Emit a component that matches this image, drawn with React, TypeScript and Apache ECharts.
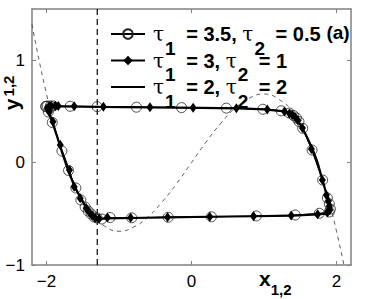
import React, { useEffect, useRef } from 'react';
import * as echarts from 'echarts';

const tau1 = [3.5, 3, 2];
const tau2 = [0.5, 1, 2];
const seriesNames = tau1.map((t, i) => `τ1 = ${t}, τ2 = ${tau2[i]}`);

const xTicks = [-2, 0, 2];
const yTicks = [-1, 0, 1];
const xRange = [-2.2, 2.2];
const yRange = [-1, 1.5];
const verticalLineX = -1.3;

const nullclineX = [-2.2, -2.0, -1.8, -1.6, -1.4, -1.2, -1.0, -0.8, -0.6, -0.4, -0.2, 0, 0.2, 0.4, 0.6, 0.8, 1.0, 1.2, 1.4, 1.6, 1.8, 2.0, 2.2];
const nullclineY = [1.35, 0.67, 0.14, -0.23, -0.49, -0.62, -0.67, -0.63, -0.53, -0.38, -0.2, 0, 0.2, 0.38, 0.53, 0.63, 0.67, 0.62, 0.49, 0.23, -0.14, -0.67, -1.35];

// tau1 = 2, tau2 = 2 : solid line
const linePts = [
  [-2.017, 0.553], [-1.811, 0.55], [-1.26, 0.545], [-0.573, 0.54], [0.114, 0.535], [0.664, 0.53],
  [1.007, 0.519], [1.214, 0.506], [1.351, 0.484], [1.447, 0.433], [1.53, 0.336], [1.599, 0.24],
  [1.668, 0.133], [1.737, 0.006], [1.806, -0.17], [1.861, -0.307], [1.901, -0.424], [1.915, -0.473],
  [1.887, -0.497], [1.737, -0.505], [1.393, -0.517], [0.843, -0.524], [0.252, -0.529], [-0.34, -0.534],
  [-0.834, -0.541], [-1.15, -0.546], [-1.26, -0.551], [-1.315, -0.546], [-1.37, -0.521], [-1.425, -0.473],
  [-1.508, -0.365], [-1.604, -0.248], [-1.7, -0.082], [-1.783, 0.094], [-1.852, 0.25], [-1.92, 0.396],
  [-1.975, 0.504], [-2.017, 0.553],
];

// tau1 = 3.5, tau2 = 0.5 : open circles
const circlePts = [
  [-2.01, 0.548], [-1.989, 0.553], [-1.948, 0.553], [-1.907, 0.553], [-1.673, 0.55], [-1.302, 0.546], [-0.759, 0.541],
  [-0.137, 0.537], [0.481, 0.532], [0.984, 0.521], [1.237, 0.506], [1.351, 0.484], [1.406, 0.46],
  [1.447, 0.436], [1.482, 0.401], [1.534, 0.335], [1.663, 0.123], [1.809, -0.17], [1.874, -0.346],
  [1.901, -0.404], [1.915, -0.453], [1.901, -0.482], [1.764, -0.495], [1.43, -0.512], [0.894, -0.521],
  [0.275, -0.529], [-0.322, -0.534], [-0.825, -0.539], [-1.123, -0.536], [-1.237, -0.551], [-1.302, -0.541],
  [-1.343, -0.531], [-1.384, -0.502], [-1.425, -0.473], [-1.467, -0.434], [-1.526, -0.365], [-1.595, -0.248],
  [-1.696, -0.077], [-1.787, 0.113], [-1.92, 0.392], [-1.975, 0.494], [-2.01, 0.548],
];

// tau1 = 3, tau2 = 1 : filled diamonds
const diamondPts = [
  [-1.879, 0.553], [-1.838, 0.553], [-1.618, 0.55], [-1.215, 0.545], [-0.573, 0.54], [0.022, 0.536],
  [0.619, 0.531], [1.045, 0.519], [1.283, 0.499], [1.351, 0.479], [1.393, 0.465], [1.434, 0.44],
  [1.468, 0.411], [1.53, 0.338], [1.654, 0.133], [1.805, -0.17], [1.86, -0.316], [1.887, -0.375],
  [1.901, -0.424], [1.908, -0.463], [1.874, -0.487], [1.74, -0.505], [1.375, -0.517], [0.856, -0.523],
  [0.252, -0.529], [-0.33, -0.534], [-0.839, -0.539], [-1.16, -0.536], [-1.274, -0.546], [-1.329, -0.541],
  [-1.371, -0.517], [-1.412, -0.482], [-1.453, -0.443], [-1.535, -0.349], [-1.618, -0.235], [-1.683, -0.072],
  [-1.81, 0.172], [-1.911, 0.399], [-1.962, 0.494], [-1.99, 0.53], [-1.962, 0.55], [-1.934, 0.553], [-1.879, 0.553],
];

const SANS = 'Liberation Sans, Arial, Helvetica, sans-serif';
const AXIS_GRAY = '#808080';
const minus = (v: number) => (v < 0 ? '\u2212' + Math.abs(v) : String(v));

export default function App() {
  const ref = useRef<HTMLDivElement>(null);
  useEffect(() => {
    if (!ref.current) return;
    const chart = echarts.init(ref.current, undefined, { renderer: 'svg' });
    const baseAxis = {
      type: 'value' as const,
      splitLine: { show: false },
      axisLine: { show: true, onZero: false, lineStyle: { color: AXIS_GRAY, width: 1.5 } },
    };
    const subStyle = { fontFamily: SANS, fontSize: 19, fontWeight: 'bold', color: '#000', padding: [28, 5, 0, 1] };
    chart.setOption({
      animation: false,
      backgroundColor: '#fff',
      grid: { left: 32, right: 19, top: 9, bottom: 34, outerBoundsMode: 'none' },
      xAxis: [
        {
          ...baseAxis,
          min: xRange[0], max: xRange[1],
          axisTick: { show: true, inside: true, length: 4, customValues: xTicks, lineStyle: { color: AXIS_GRAY } },
          axisLabel: { show: true, customValues: xTicks, formatter: minus, color: '#000', fontSize: 17, fontFamily: SANS, margin: 8 },
        },
        {
          ...baseAxis,
          position: 'top',
          min: xRange[0], max: xRange[1],
          axisTick: { show: true, inside: true, length: 4, customValues: xTicks, lineStyle: { color: AXIS_GRAY } },
          axisLabel: { show: false },
        },
      ],
      yAxis: [
        {
          ...baseAxis,
          min: yRange[0], max: yRange[1],
          axisTick: { show: true, inside: true, length: 4, customValues: yTicks, lineStyle: { color: AXIS_GRAY } },
          axisLabel: { show: true, customValues: yTicks, formatter: minus, color: '#000', fontSize: 17, fontFamily: SANS, margin: 7 },
        },
        {
          ...baseAxis,
          position: 'right',
          min: yRange[0], max: yRange[1],
          axisTick: { show: true, inside: true, length: 4, customValues: yTicks, lineStyle: { color: AXIS_GRAY } },
          axisLabel: { show: false },
        },
      ],
      legend: {
        orient: 'vertical',
        left: 105,
        top: 19,
        itemWidth: 34,
        itemHeight: 12,
        itemGap: -7,
        selectedMode: false,
        data: [
          { name: seriesNames[0] },
          { name: seriesNames[1] },
          { name: seriesNames[2], itemStyle: { color: 'rgba(0,0,0,0)', borderWidth: 0, opacity: 0 } },
        ],
        formatter: (name: string) => {
          const i = seriesNames.indexOf(name);
          return `{t0|τ}{s|1}{b| = ${tau1[i]}, }{t|τ}{s|2}{b| = ${tau2[i]}}`;
        },
        textStyle: {
          color: '#000',
          rich: {
            t0: { fontFamily: 'DejaVu Serif, serif', fontSize: 20, color: '#000', padding: [0, 0, 0, 3] },
            t: { fontFamily: 'DejaVu Serif, serif', fontSize: 20, color: '#000' },
            s: subStyle,
            b: { fontFamily: SANS, fontSize: 20, fontWeight: 'bold', color: '#000' },
          },
        },
      },
      graphic: [
        {
          type: 'text', x: 338, y: 32,
          style: { text: '(a)', font: `bold 19px ${SANS}`, fill: '#000', align: 'center', verticalAlign: 'middle' },
        },
        {
          type: 'text', x: 259, y: 278,
          style: {
            text: '{v|x}{s|1,2}', align: 'left', verticalAlign: 'middle',
            rich: {
              v: { fontFamily: SANS, fontSize: 21, fontWeight: 'bold', fill: '#000' },
              s: { fontFamily: SANS, fontSize: 15, fontWeight: 'bold', fill: '#000', padding: [22, 0, 0, 0] },
            },
          },
        },
        {
          type: 'text', x: 11, y: 104.5, rotation: Math.PI / 2,
          style: { text: 'y', font: `bold 21px ${SANS}`, fill: '#000', align: 'center', verticalAlign: 'middle' },
        },
        {
          type: 'text', x: 8.5, y: 86, rotation: Math.PI / 2,
          style: { text: '1,2', font: `bold 15px ${SANS}`, fill: '#000', align: 'center', verticalAlign: 'middle' },
        },
      ],
      series: [
        {
          name: 'nullcline', type: 'line', silent: true, smooth: true, symbol: 'none',
          data: nullclineX.map((x, i) => [x, nullclineY[i]]),
          lineStyle: { color: '#333', width: 0.8, type: [4, 4] },
          z: 1,
        },
        {
          name: 'vline', type: 'line', silent: true, symbol: 'none',
          data: [[verticalLineX, yRange[0]], [verticalLineX, yRange[1]]],
          lineStyle: { color: '#000', width: 1.2, type: [6, 4] },
          z: 1,
        },
        {
          name: seriesNames[0], type: 'line', data: circlePts, symbol: 'circle', symbolSize: 10, showSymbol: true,
          lineStyle: { color: '#000', width: 1 },
          itemStyle: { color: 'rgba(255,255,255,0)', borderColor: '#222', borderWidth: 0.8 },
          z: 2,
        },
        {
          name: seriesNames[1], type: 'line', data: diamondPts, symbol: 'diamond', symbolSize: [7, 10], showSymbol: true,
          lineStyle: { color: '#000', width: 1 },
          itemStyle: { color: '#000' },
          z: 3,
        },
        {
          name: seriesNames[2], type: 'line', data: linePts, symbol: 'none',
          lineStyle: { color: '#000', width: 2.2 },
          itemStyle: { color: '#000' },
          z: 4,
        },
      ],
    });
    return () => chart.dispose();
  }, []);
  return <div ref={ref} style={{ position: 'fixed', left: 0, top: 0, width: 370, height: 299 }} />;
}
